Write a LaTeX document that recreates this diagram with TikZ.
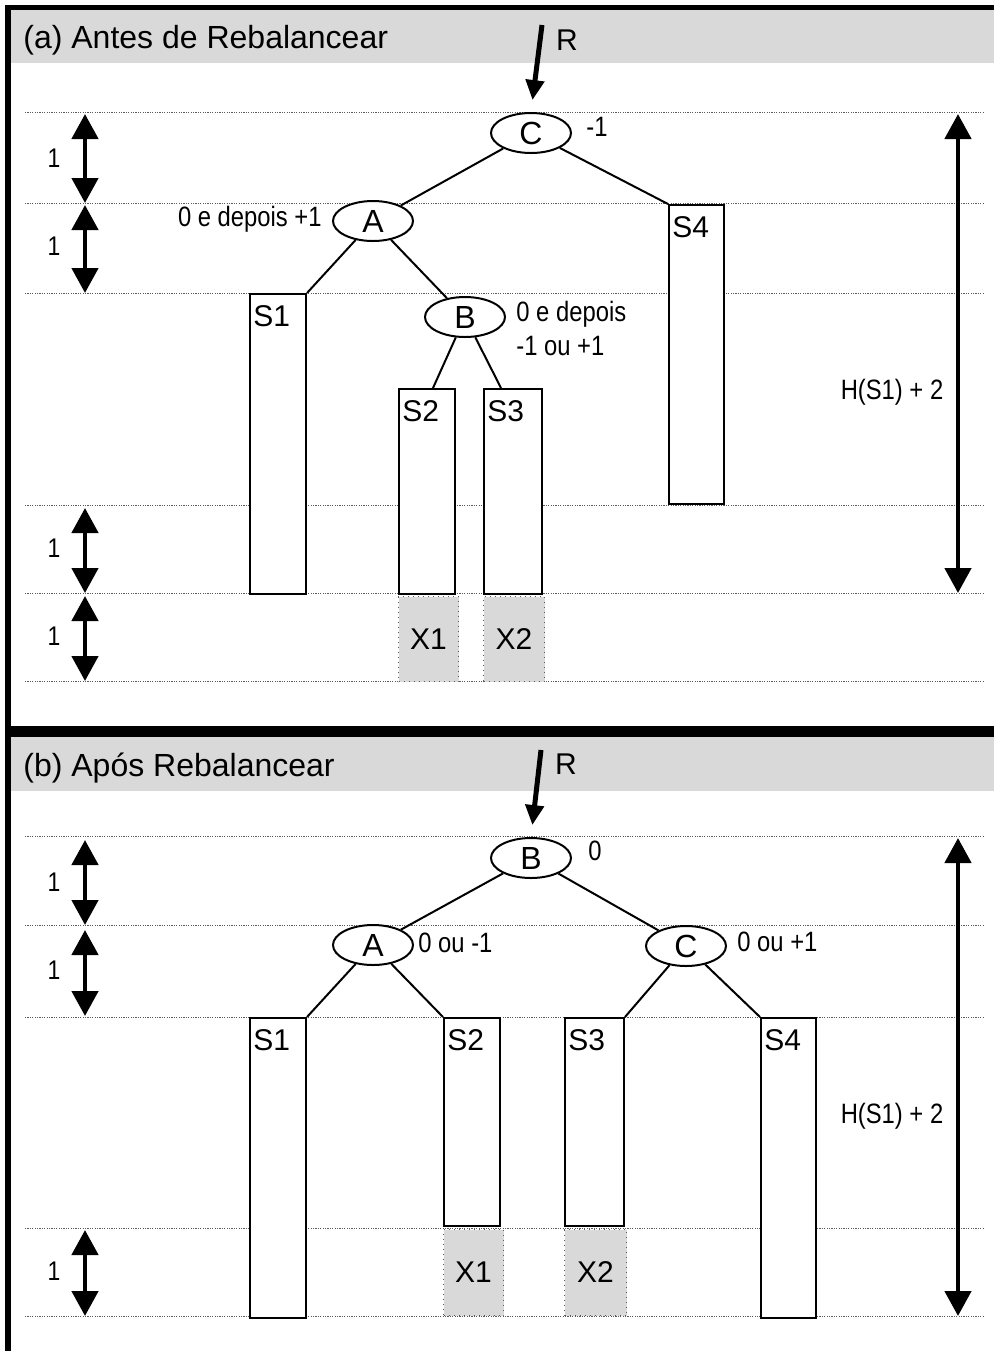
\documentclass[tikz,border=0pt]{standalone}
\usepackage{fontspec}
\setmainfont{Liberation Sans}
\newfontfamily\narrowfont[FakeStretch=0.85]{Liberation Sans}
\usetikzlibrary{arrows.meta, shapes.geometric}
\usepackage{xcolor}
\definecolor{hgray}{RGB}{217, 217, 217}
\definecolor{lgray}{RGB}{90, 90, 90}

\begin{document}
\begin{tikzpicture}[
  x=0.5pt, y=-0.5pt,
  every node/.style={inner sep=2pt},
  keynode/.style={ellipse, draw, fill=white, line width=1pt,
                  minimum width=40pt, minimum height=20pt, inner sep=0pt,
                  font=\fontsize{16}{19}\selectfont},
  subtree/.style={rectangle, draw, fill=white, line width=1pt,
                  anchor=north west, inner sep=0pt},
  newleaf/.style={rectangle, draw=lgray, dotted, fill=hgray, line width=0.5pt,
                  anchor=north west, inner sep=0pt,
                  font=\fontsize{15}{18}\selectfont},
  sname/.style={font=\fontsize{15}{18}\selectfont, inner sep=0pt,
                anchor=north west, xshift=2pt, yshift=-6pt},
  bal/.style={font=\narrowfont\fontsize{14}{17}\selectfont, inner sep=1pt},
  hline/.style={draw=lgray, dash pattern=on 0.6pt off 0.6pt, line width=0.5pt},
  dimarr/.style={{Triangle[length=12.5pt, width=13pt]}-{Triangle[length=12.5pt, width=13pt]},
                 line width=2.3pt},
  rootarr/.style={-{Triangle[length=10pt, width=9pt]}, line width=2.5pt},
  link/.style={line width=1pt},
  hdtitle/.style={font=\fontsize{16}{19}\selectfont, anchor=base west, inner sep=0pt}
]
\useasboundingbox (0,0) rectangle (994,1351);

% Header bands and frame
\fill[hgray] (11,10) rectangle (994,63);
\fill[hgray] (11,737) rectangle (994,791);
\draw[line width=2.5pt] (5,7.5) -- (994,7.5);
\draw[line width=3pt] (8,5) -- (8,1351);
\draw[line width=5.5pt] (8,731.5) -- (994,731.5);

\node[hdtitle] (ta) at (23,48)  {(a) Antes de Rebalancear};
\node[hdtitle] (tb) at (23,776) {(b) Após Rebalancear};

% Height levels
\foreach \y in {112,203,293,505,593,681,836,925,1017,1228,1316}
  \draw[hline] (25,\y) -- (983,\y);

% Unit heights
\foreach \ya/\yb/\yl in {114/203/158, 205/293/246, 508/593/548, 596/681/636,
                         840/925/882, 930/1016/970, 1230/1316/1271} {
  \draw[dimarr] (85,\ya) -- (85,\yb);
  \node[bal, font=\narrowfont\fontsize{13.5}{16}\selectfont] (u\yl) at (54,\yl) {1};
}

% Total heights
\draw[dimarr] (958,114) -- (958,593);
\node[bal] (ha) at (892,392) {H(S1) + 2};
\draw[dimarr] (958,838) -- (958,1316);
\node[bal] (hb) at (892,1116) {H(S1) + 2};

% (a) before
\node[keynode] (Ca) at (531,133) {C};
\node[keynode] (Aa) at (373,221) {A};
\node[keynode] (Ba) at (465,317) {B};

\node[subtree, minimum width=28pt,   minimum height=150pt,
      label={[sname]north west:S1}] (S1a) at (249,293) {};
\node[subtree, minimum width=28pt,   minimum height=102.5pt,
      label={[sname]north west:S2}] (S2a) at (398,388) {};
\node[subtree, minimum width=29pt,   minimum height=102.5pt,
      label={[sname]north west:S3}] (S3a) at (483,388) {};
\node[subtree, minimum width=27.5pt, minimum height=149.5pt,
      label={[sname]north west:S4}] (S4a) at (668,204) {};
\node[newleaf, minimum width=30pt,   minimum height=42.5pt] (X1a) at (398,596) {X1};
\node[newleaf, minimum width=30.5pt, minimum height=42.5pt] (X2a) at (483,596) {X2};

\draw[link] (Ca) -- (Aa);
\draw[link] (Ca) -- (S4a.north west);
\draw[link] (Aa) -- (S1a.north east);
\draw[link] (Aa) -- (Ba);
\draw[link] (Ba) -- ([xshift=3pt]S2a.north);
\draw[link] (Ba) -- ([xshift=-6pt]S3a.north);

\node[bal, anchor=west] (bCa) at (584,127) {-1};
\node[bal, anchor=east] (bAa) at (324,219) {0 e depois +1};
\node[bal, anchor=west, align=left] (bBa) at (514,328) {0 e depois\\-1 ou +1};

\coordinate (Ra0) at (542,25);
\draw[rootarr, shorten >=6pt] (Ra0) -- (Ca.north);
\node[font=\fontsize{15}{18}\selectfont] (Ra) at (567,40) {R};

% (b) after
\node[keynode] (Bb) at (531,858) {B};
\node[keynode] (Ab) at (373,945) {A};
\node[keynode] (Cb) at (686,946) {C};

\node[subtree, minimum width=28pt,   minimum height=150pt,
      label={[sname]north west:S1}] (S1b) at (249,1017) {};
\node[subtree, minimum width=28pt,   minimum height=104pt,
      label={[sname]north west:S2}] (S2b) at (443,1017) {};
\node[subtree, minimum width=29.5pt, minimum height=104pt,
      label={[sname]north west:S3}] (S3b) at (564,1017) {};
\node[subtree, minimum width=27.5pt, minimum height=150pt,
      label={[sname]north west:S4}] (S4b) at (760,1017) {};
\node[newleaf, minimum width=30pt, minimum height=43pt] (X1b) at (443,1229) {X1};
\node[newleaf, minimum width=31pt, minimum height=43pt] (X2b) at (564,1229) {X2};

\draw[link] (Bb) -- (Ab);
\draw[link] (Bb) -- (Cb);
\draw[link] (Ab) -- (S1b.north east);
\draw[link] (Ab) -- (S2b.north west);
\draw[link] (Cb) -- (S3b.north east);
\draw[link] (Cb) -- (S4b.north west);

\node[bal, anchor=west] (bBb) at (586,851) {0};
\node[bal, anchor=west] (bAb) at (416,943) {0 ou -1};
\node[bal, anchor=west] (bCb) at (735,942) {0 ou +1};

\coordinate (Rb0) at (541,750);
\draw[rootarr, shorten >=6pt] (Rb0) -- (Bb.north);
\node[font=\fontsize{15}{18}\selectfont] (Rb) at (566,764) {R};

\end{tikzpicture}
\end{document}
